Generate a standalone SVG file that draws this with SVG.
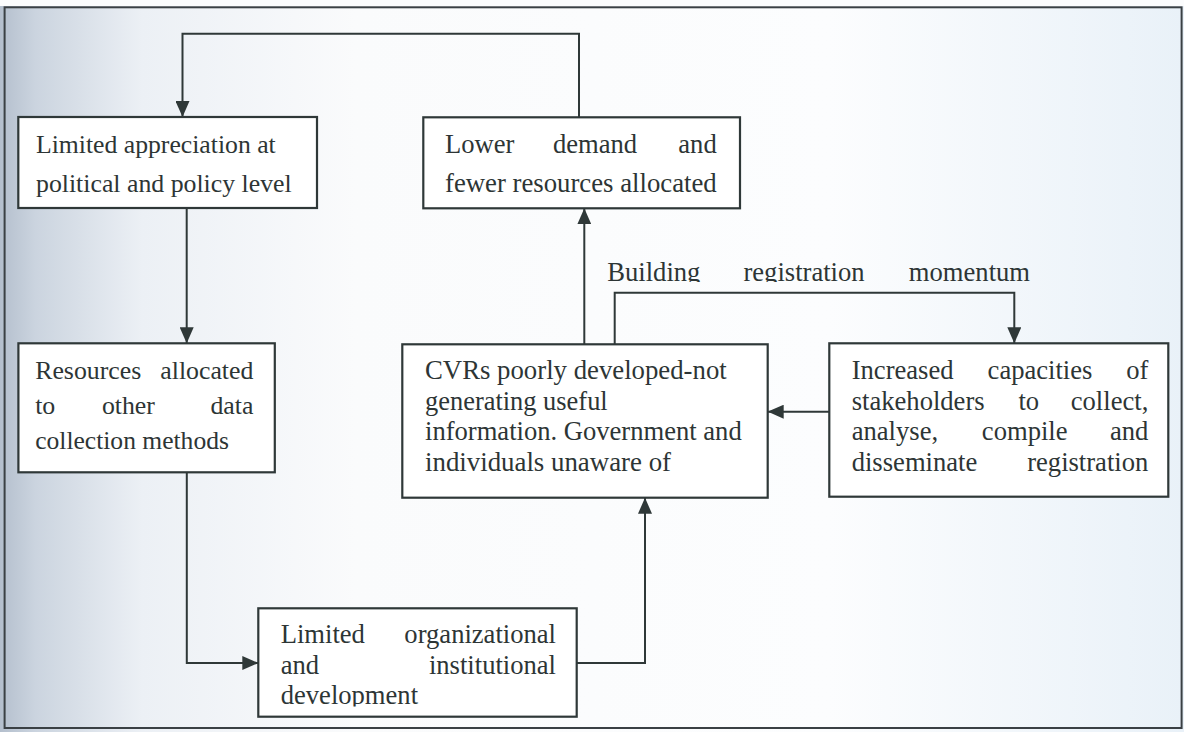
<svg xmlns="http://www.w3.org/2000/svg" width="1184" height="732" viewBox="0 0 1184 732">
  <defs>
    <linearGradient id="paper" x1="0" y1="0" x2="1" y2="0">
      <stop offset="0" stop-color="#b4bfcd"/>
      <stop offset="0.03" stop-color="#cbd4df"/>
      <stop offset="0.12" stop-color="#ecf0f5"/>
      <stop offset="0.3" stop-color="#fafbfc"/>
      <stop offset="0.7" stop-color="#fcfdfe"/>
      <stop offset="1" stop-color="#e9f1f8"/>
    </linearGradient>
    <marker id="arr" markerUnits="userSpaceOnUse" markerWidth="16" markerHeight="14" refX="16" refY="7" orient="auto">
      <path d="M0,0 L16,7 L0,14 z" fill="#2f3838"/>
    </marker>
    <clipPath id="clipF"><rect x="258" y="608" width="320" height="98.5"/></clipPath>
    <clipPath id="clipLbl"><rect x="590" y="250" width="460" height="32"/></clipPath>
    <style>
      .box { fill: #ffffff; stroke: #2f3838; stroke-width: 2.2; }
      .conn { fill: none; stroke: #2f3838; stroke-width: 2; }
      text { font-family: "Liberation Serif", "Times New Roman", serif; fill: #2d3535; }
      .f1 { font-size: 25.8px; }
      .f2 { font-size: 26.6px; }
      .m { text-anchor: middle; }
      .e { text-anchor: end; }
    </style>
  </defs>

  <rect x="0" y="0" width="1184" height="732" fill="url(#paper)"/>
  <rect x="0" y="0" width="1184" height="6" fill="#fbfcfd"/>
  <rect id="frame" x="4.6" y="7.3" width="1177" height="720.7" fill="none" stroke="#3a4044" stroke-width="2"/>

  <g id="connectors">
    <path class="conn" d="M579,117 V33.7 H182.5 V117" marker-end="url(#arr)"/>
    <path class="conn" d="M186.7,208 V343.3" marker-end="url(#arr)"/>
    <path class="conn" d="M186.8,472.3 V663 H258.3" marker-end="url(#arr)"/>
    <path class="conn" d="M576.7,663 H645 V497.7" marker-end="url(#arr)"/>
    <path class="conn" d="M584.3,344.3 V208.3" marker-end="url(#arr)"/>
    <path class="conn" d="M614.7,344.3 V292.7 H1014.3 V343.3" marker-end="url(#arr)"/>
    <path class="conn" d="M829.3,411.7 H767.7" marker-end="url(#arr)"/>
    <g id="label-momentum" clip-path="url(#clipLbl)" class="f2">
      <text x="607.3" y="280.7">Building</text>
      <text class="m" x="804" y="280.7">registration</text>
      <text class="e" x="1030" y="280.7">momentum</text>
    </g>
  </g>

  <g id="node-appreciation">
    <rect class="box" x="18.3" y="117" width="298.7" height="91"/>
    <text class="f1" x="36" y="153.3" textLength="239.7" lengthAdjust="spacingAndGlyphs">Limited appreciation at</text>
    <text class="f1" x="36" y="191.7" textLength="255.7" lengthAdjust="spacingAndGlyphs">political and policy level</text>
  </g>

  <g id="node-lower-demand" class="f2">
    <rect class="box" x="423.3" y="117.3" width="316.7" height="91"/>
    <text x="445" y="153.3">Lower</text>
    <text class="m" x="595" y="153.3">demand</text>
    <text class="e" x="716.7" y="153.3">and</text>
    <text x="445" y="191.7" textLength="271.7" lengthAdjust="spacingAndGlyphs">fewer resources allocated</text>
  </g>

  <g id="node-resources" class="f1">
    <rect class="box" x="18.4" y="343.3" width="256.4" height="129"/>
    <text x="35.2" y="379.3">Resources</text>
    <text class="e" x="253.4" y="379.3">allocated</text>
    <text x="35.2" y="414">to</text>
    <text class="m" x="128.4" y="414">other</text>
    <text class="e" x="253.4" y="414">data</text>
    <text x="35.2" y="449" textLength="193.7" lengthAdjust="spacingAndGlyphs">collection methods</text>
  </g>

  <g id="node-cvrs" class="f2">
    <rect class="box" x="402.3" y="344.3" width="365.4" height="153.4"/>
    <text x="425" y="379.3" textLength="301.7" lengthAdjust="spacingAndGlyphs">CVRs poorly developed-not</text>
    <text x="425" y="409.5" textLength="182.7" lengthAdjust="spacingAndGlyphs">generating useful</text>
    <text x="425" y="440" textLength="316.7" lengthAdjust="spacingAndGlyphs">information. Government and</text>
    <text x="425" y="471" textLength="246" lengthAdjust="spacingAndGlyphs">individuals unaware of</text>
  </g>

  <g id="node-capacities" class="f2">
    <rect class="box" x="829.3" y="343.3" width="339" height="153.4"/>
    <text x="851.7" y="379.3">Increased</text>
    <text class="m" x="1040" y="379.3">capacities</text>
    <text class="e" x="1148.3" y="379.3">of</text>
    <text x="851.7" y="409.5">stakeholders</text>
    <text class="m" x="1028.8" y="409.5">to</text>
    <text class="e" x="1148.3" y="409.5">collect,</text>
    <text x="851.7" y="440">analyse,</text>
    <text class="m" x="1024.7" y="440">compile</text>
    <text class="e" x="1148.3" y="440">and</text>
    <text x="851.7" y="471">disseminate</text>
    <text class="e" x="1148.3" y="471">registration</text>
  </g>

  <g id="node-organizational" class="f2">
    <rect class="box" x="258.3" y="608.3" width="318.4" height="108.4"/>
    <g clip-path="url(#clipF)">
      <text x="280.7" y="643.3">Limited</text>
      <text class="e" x="556" y="643.3">organizational</text>
      <text x="280.7" y="674">and</text>
      <text class="e" x="556" y="674">institutional</text>
      <text x="280.7" y="704">development</text>
    </g>
  </g>
</svg>
